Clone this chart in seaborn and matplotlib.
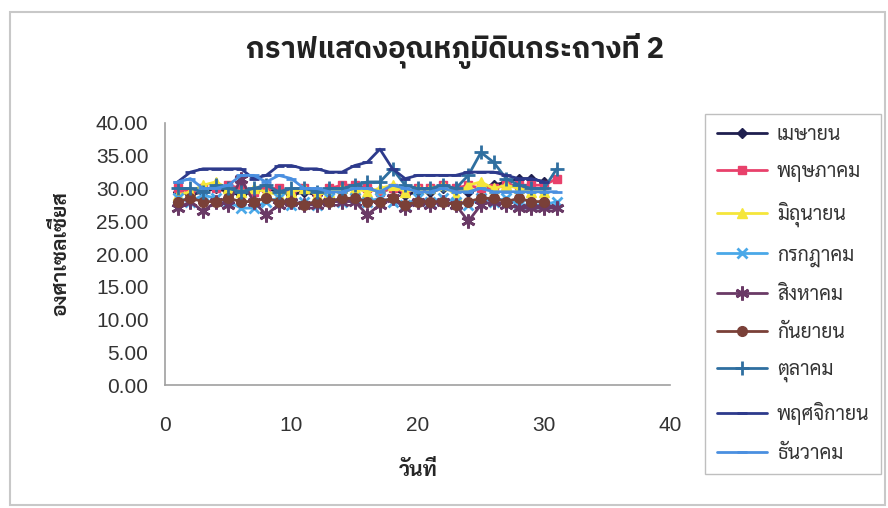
import numpy as np
import pandas as pd
import matplotlib
matplotlib.use("Agg")
import matplotlib.pyplot as plt
from matplotlib.patches import Rectangle
import seaborn as sns

nan = np.nan

# Day of month (x axis)
DAYS = list(range(1, 32))

# Month names as they appear in the legend
MONTHS = ["เมษายน", "พฤษภาคม", "มิถุนายน", "กรกฎาคม", "สิงหาคม",
          "กันยายน", "ตุลาคม", "พฤศจิกายน", "ธันวาคม"]

# Soil temperature (deg C) per day
apr = [29.5, 29.0, 29.5, 30.0, 29.5, 29.0, 29.5, 30.0, 29.5, 29.0, 29.5,
       29.0, 29.5, 29.5, 30.0, 30.0, 29.5, 30.0, 29.0, 29.5, 29.5, 30.0,
       30.0, 29.5, 30.0, 30.5, 31.0, 31.5, 31.5, 31.0, nan]
may = [30.0, 29.5, 30.0, 30.0, 30.5, 30.0, 29.5, 30.0, 30.0, 29.5, 30.0,
       29.5, 30.0, 30.5, 30.5, 30.0, 29.5, 30.0, 29.5, 30.0, 30.0, 30.5,
       30.0, 30.5, 30.0, 30.0, 30.5, 30.5, 30.5, 30.5, 31.5]
jun = [29.0, 29.5, 30.5, 31.0, 30.0, 29.5, 30.0, 29.5, 29.0, 29.5, 30.0,
       29.0, 29.5, 30.0, 30.0, 29.5, 30.0, 30.5, 29.5, 30.0, 30.0, 30.5,
       29.0, 30.5, 31.0, 30.0, 30.5, 30.0, 29.5, 29.5, nan]
jul = [28.5, 28.0, 29.0, 28.5, 28.0, 27.0, 27.0, 28.0, 28.5, 27.5, 28.0,
       27.5, 28.5, 28.0, 28.5, 28.0, 28.5, 28.0, 27.5, 28.5, 28.0, 28.5,
       28.0, 27.5, 28.5, 28.0, 28.5, 27.5, 27.5, 27.5, 28.0]
aug = [27.0, 28.0, 26.5, 28.0, 27.5, 31.5, 28.0, 26.0, 27.5, 28.0, 27.5,
       27.5, 28.0, 28.0, 28.0, 26.0, 27.5, 28.5, 27.0, 28.0, 27.5, 28.0,
       27.5, 25.0, 27.5, 28.0, 27.5, 27.0, 27.0, 27.0, 27.0]
sep = [28.0, 28.5, 28.0, 28.0, 28.5, 28.0, 28.0, 28.5, 28.0, 28.0, 27.5,
       28.0, 28.0, 28.5, 28.5, 28.0, 28.0, 28.5, 27.5, 28.0, 28.0, 28.0,
       27.5, 28.0, 28.5, 28.5, 28.0, 28.5, 28.0, 28.0, nan]
oct_ = [30.0, 30.0, 29.5, 30.5, 30.0, 29.5, 30.0, 30.5, 29.5, 30.0, 30.0,
        29.5, 30.0, 30.0, 30.5, 31.0, 31.0, 33.0, 30.5, 30.0, 30.0, 30.5,
        30.0, 32.0, 35.5, 34.0, 31.5, 30.5, 30.0, 30.0, 33.0]
nov = [31.0, 32.5, 33.0, 33.0, 33.0, 33.0, 31.5, 32.0, 33.5, 33.5, 33.0,
       33.0, 32.5, 32.5, 33.5, 34.0, 36.0, 33.0, 31.5, 32.0, 32.0, 32.0,
       32.0, 32.5, 32.5, 32.5, 32.0, 31.5, 31.5, 31.0, nan]
dec = [31.0, 31.5, 30.0, 30.0, 30.5, 32.0, 32.0, 31.0, 32.0, 31.5, 30.0,
       30.0, 29.5, 29.5, 30.0, 30.0, 29.5, 30.5, 30.0, 29.5, 29.5, 30.0,
       29.5, 29.5, 30.0, 29.5, 29.5, 29.5, 29.5, 29.5, 29.5]

SERIES = [apr, may, jun, jul, aug, sep, oct_, nov, dec]

# Excel-2003 style look for each month: colour, marker, marker size
STYLES = [
    ("#1f1f4f", "D", 5),
    ("#e8416b", "s", 6),
    ("#f5e63a", "^", 7),
    ("#4aa8e8", "x", 7),
    ("#6a3a66", (6, 2, 0), 10),
    ("#7a4038", "o", 7),
    ("#2f6fa0", "+", 10),
    ("#2d3a8c", "_", 7),
    ("#4a8fe0", "_", 7),
]

sns.set_style("white")
plt.rcParams["font.family"] = ["Liberation Sans", "Sarabun"]

fig = plt.figure(figsize=(8.88, 5.08), dpi=100)
ax = fig.add_axes([0.186, 0.242, 0.569, 0.516])

# Light grey chart-area frame
fig.patches.append(Rectangle((0.011, 0.005), 0.986, 0.971, transform=fig.transFigure,
                             fill=False, edgecolor="#c8c8c8", linewidth=1.5))

long_df = pd.DataFrame({
    "day": DAYS * len(MONTHS),
    "temp": [v for s in SERIES for v in s],
    "month": [m for m in MONTHS for _ in DAYS],
})

for month, (color, marker, ms) in zip(MONTHS, STYLES):
    sub = long_df[long_df["month"] == month].dropna()
    sns.lineplot(data=sub, x="day", y="temp", ax=ax, color=color,
                 marker=marker, markersize=ms, markeredgecolor=color,
                 markeredgewidth=2 if marker in ("x", "+", "_", (6, 2, 0)) else 1,
                 linewidth=2, label=month)

ax.set_xlim(0, 40)
ax.set_ylim(0, 40)
ax.set_xticks([0, 10, 20, 30, 40])
ax.set_yticks(np.arange(0, 40.1, 5))
ax.set_yticklabels([f"{v:.2f}" for v in np.arange(0, 40.1, 5)])
ax.tick_params(axis="both", labelsize=15, colors="#333333", length=4,
               width=1, direction="out", pad=8)
ax.tick_params(axis="x", labelcolor="#333333", pad=18)
for side in ("top", "right"):
    ax.spines[side].set_visible(False)
for side in ("left", "bottom"):
    ax.spines[side].set_color("#a0a0a0")
    ax.spines[side].set_linewidth(1.2)

ax.set_xlabel("วันที่", fontsize=15, fontweight="bold", labelpad=18,
              family=["Sarabun", "Liberation Sans"])
ax.set_ylabel("องศาเซลเซียส", fontsize=15, fontweight="bold", labelpad=18,
              family=["Sarabun", "Liberation Sans"])

fig.text(0.512, 0.9, "กราฟแสดงอุณหภูมิดินกระถางที่ 2", ha="center", va="center",
         fontsize=21, fontweight="bold", color="#222222",
         family=["IBM Plex Sans Thai", "Liberation Sans"])

leg = ax.legend(loc="upper left", bbox_to_anchor=(0.783, 0.795),
                bbox_transform=fig.transFigure, frameon=True, fancybox=False,
                prop={"family": ["Sarabun", "Liberation Sans"], "size": 14},
                handlelength=2.6, labelspacing=1.0, borderpad=0.6,
                handletextpad=0.5)
leg.get_frame().set_edgecolor("#b0b0b0")
leg.get_frame().set_linewidth(1.0)
for t in leg.get_texts():
    t.set_color("#333333")

fig.savefig("out.png", dpi=100)
